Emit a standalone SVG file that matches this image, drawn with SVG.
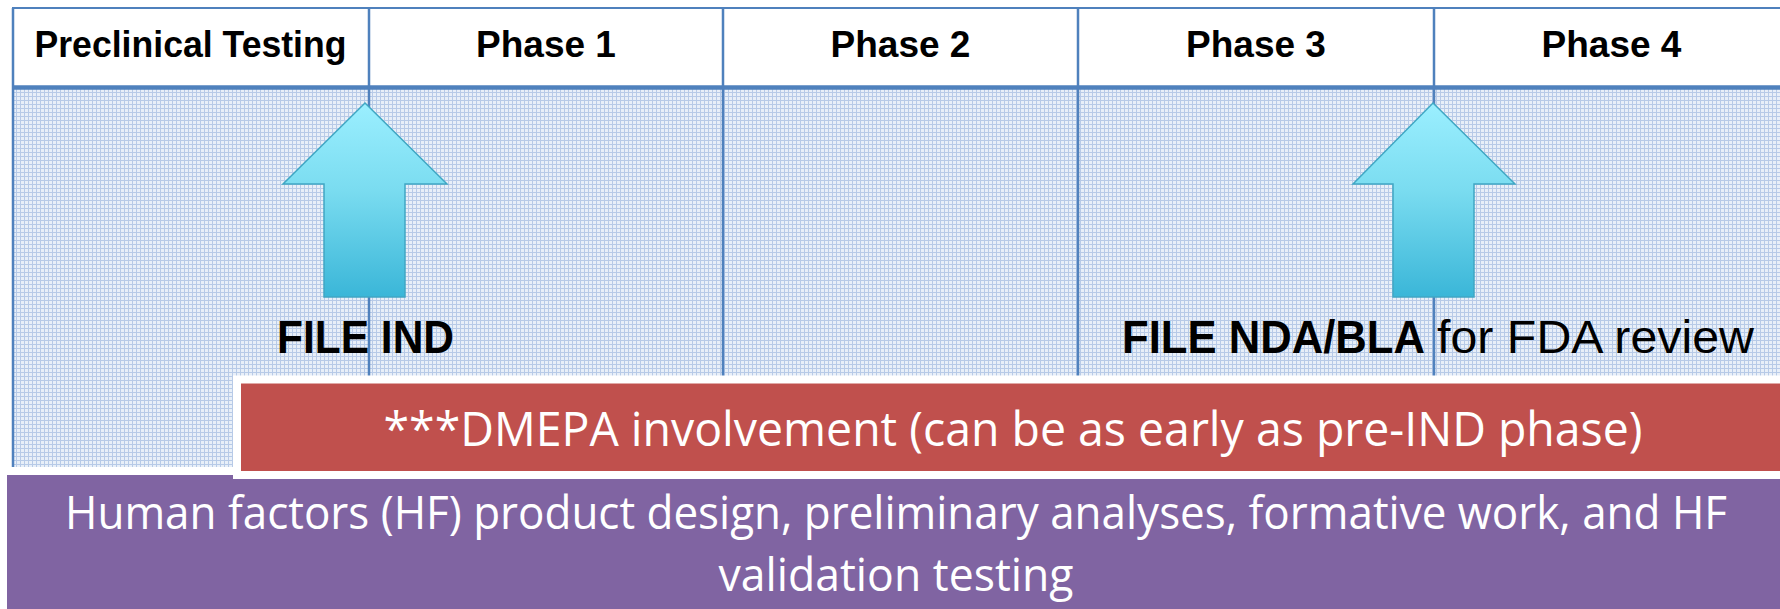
<svg xmlns="http://www.w3.org/2000/svg" width="1780" height="609" viewBox="0 0 1780 609">
  <defs>
    <pattern id="grid" x="0" y="0" width="4" height="4" patternUnits="userSpaceOnUse">
      <rect width="4" height="4" fill="#E8EFF8"/>
      <rect width="4" height="1" fill="#B7CAE7"/>
      <rect width="1" height="4" fill="#B7CAE7"/>
    </pattern>
    <linearGradient id="arrowGrad" x1="0" y1="0" x2="0" y2="1">
      <stop offset="0" stop-color="#9BEFFF"/>
      <stop offset="0.45" stop-color="#7ADCF0"/>
      <stop offset="1" stop-color="#3AB6D8"/>
    </linearGradient>
    <style>
      .hdr { font-family: "Liberation Sans", Arial, sans-serif; font-weight: bold; font-size: 37px; fill: #000; text-anchor: middle; }
      .col { stroke: #4F81BD; stroke-width: 2.5; fill: none; }
      .arrow { fill: url(#arrowGrad); stroke: #40A7C4; stroke-width: 1.5; }
      .lblB { font-family: "Liberation Sans", Arial, sans-serif; font-weight: bold; font-size: 46px; fill: #000; }
      .lblR { font-family: "Liberation Sans", Arial, sans-serif; font-weight: normal; font-size: 46px; fill: #000; }
      .white { font-family: "Open Sans", "Liberation Sans", Arial, sans-serif; fill: #FFFFFF; text-anchor: middle; }
    </style>
  </defs>

  <rect x="0" y="0" width="1780" height="609" fill="#FFFFFF"/>

  <g id="timeline-table">
    <rect x="13" y="8" width="1790" height="79" fill="#FFFFFF" stroke="#4F81BD" stroke-width="2"/>
    <rect x="13" y="89" width="1790" height="378" fill="url(#grid)"/>
    <line x1="13" y1="8" x2="13" y2="467" class="col"/>
    <line x1="13" y1="87.5" x2="1790" y2="87.5" stroke="#4F81BD" stroke-width="4.5"/>
    <line x1="369" y1="8" x2="369" y2="380" class="col"/>
    <line x1="723" y1="8" x2="723" y2="380" class="col"/>
    <line x1="1078" y1="8" x2="1078" y2="380" class="col"/>
    <line x1="1434" y1="8" x2="1434" y2="380" class="col"/>
  </g>

  <g id="header-preclinical"><text class="hdr" x="190.5" y="57" textLength="312" lengthAdjust="spacingAndGlyphs">Preclinical Testing</text></g>
  <g id="header-phase1"><text class="hdr" x="546" y="57">Phase 1</text></g>
  <g id="header-phase2"><text class="hdr" x="900.5" y="57">Phase 2</text></g>
  <g id="header-phase3"><text class="hdr" x="1256" y="57">Phase 3</text></g>
  <g id="header-phase4"><text class="hdr" x="1611.5" y="57">Phase 4</text></g>

  <g id="connectors">
    <polygon class="arrow" points="365,103 447,184 405,184 405,297 324,297 324,184 283,184"/>
    <polygon class="arrow" points="1433,103 1515,184 1474,184 1474,297 1393,297 1393,184 1353,184"/>
  </g>

  <g id="file-ind">
    <text class="lblB" x="277" y="353" textLength="177" lengthAdjust="spacingAndGlyphs">FILE IND</text>
  </g>
  <g id="file-nda">
    <text class="lblB" x="1122" y="353" textLength="303" lengthAdjust="spacingAndGlyphs">FILE NDA/BLA</text>
    <text class="lblR" x="1437" y="353" textLength="317" lengthAdjust="spacingAndGlyphs">for FDA review</text>
  </g>

  <g id="hf-bar">
    <rect x="7" y="475" width="1790" height="150" fill="#8064A2"/>
    <text class="white" x="896" y="529" font-size="45" textLength="1662" lengthAdjust="spacingAndGlyphs">Human factors (HF) product design, preliminary analyses, formative work, and HF</text>
    <text class="white" x="896" y="591" font-size="45" textLength="355" lengthAdjust="spacingAndGlyphs">validation testing</text>
  </g>

  <g id="dmepa-bar">
    <rect x="237" y="379.5" width="1580" height="95.5" fill="#C0504D" stroke="#FFFFFF" stroke-width="8"/>
    <text class="white" x="1013" y="446" font-size="47" textLength="1259" lengthAdjust="spacingAndGlyphs">***DMEPA involvement (can be as early as pre-IND phase)</text>
  </g>
</svg>
